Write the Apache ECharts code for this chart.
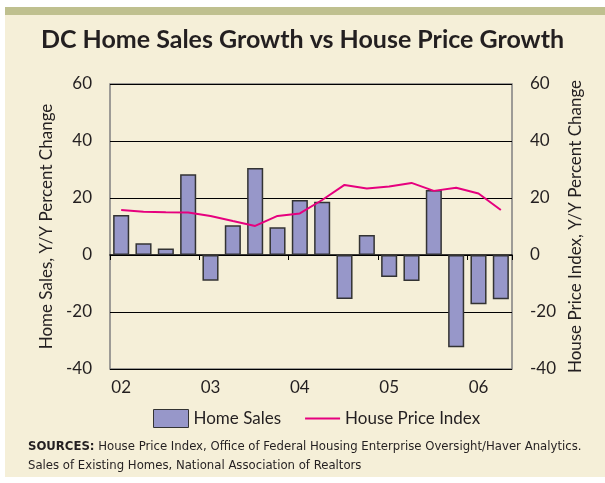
<!DOCTYPE html>
<html>
<head>
<meta charset="utf-8">
<script src="https://cdn.jsdelivr.net/npm/echarts@6/dist/echarts.min.js"></script>
<style>
  html, body { margin: 0; padding: 0; background: #fff; }
  #chart { width: 605px; height: 483px; }
</style>
</head>
<body>
<div id="chart"></div>
<script>
var quarters = ['2002Q1', '2002Q2', '2002Q3', '2002Q4',
    '2003Q1', '2003Q2', '2003Q3', '2003Q4',
    '2004Q1', '2004Q2', '2004Q3', '2004Q4',
    '2005Q1', '2005Q2', '2005Q3', '2005Q4',
    '2006Q1', '2006Q2'];
var homeSales = [14, 4.1, 2.3, 28.3, -9, 10.4, 30.5, 9.7, 19.3, 18.7, -15.4, 7, -7.7, -9.1, 22.8, -32.4, -17.3, -15.5];
var housePrice = [15.8, 15.2, 15, 14.9, 13.7, 11.9, 10.2, 13.7, 14.6, 19.3, 24.6, 23.3, 24, 25.3, 22.5, 23.6, 21.6, 15.8];

var textColor = '#231f20';
var font = 'Lato';
var smallFont = "'DejaVu Sans Condensed', Roboto";

var myChart = echarts.init(document.getElementById('chart'));

myChart.setOption({
    animation: false,
    graphic: [
        { type: 'rect', z: -10, shape: { x: 5, y: 7, width: 600, height: 470 }, style: { fill: '#f5efd8' } },
        { type: 'rect', z: -9, shape: { x: 5, y: 7, width: 600, height: 8 }, style: { fill: '#bfc08f' } },
        {
            type: 'text', left: 28, top: 437,
            style: {
                text: '{b|SOURCES:} House Price Index, Office of Federal Housing Enterprise Oversight/Haver Analytics.\nSales of Existing Homes, National Association of Realtors',
                fontFamily: smallFont,
                fontSize: 13,
                lineHeight: 19,
                fill: textColor,
                rich: { b: { fontWeight: 'bold', fontFamily: smallFont, fontSize: 13 } }
            }
        }
    ],
    title: {
        text: 'DC Home Sales Growth vs House Price Growth',
        left: 'center',
        top: 22,
        textStyle: { fontFamily: font, fontWeight: 'bold', fontSize: 25, color: textColor }
    },
    legend: {
        top: 404,
        left: 148,
        itemGap: 24,
        textStyle: { fontFamily: font, fontSize: 17, color: textColor },
        data: [
            { name: 'Home Sales', icon: 'rect', itemStyle: { borderColor: '#333', borderWidth: 1 } },
            { name: 'House Price Index', icon: 'path://M0,0 L32,0 L32,2 L0,2 Z' }
        ],
        itemWidth: 35,
        itemHeight: 18
    },
    grid: {
        left: 110, right: 93, top: 84, bottom: 114,
        show: true, borderColor: '#808080', borderWidth: 1.5
    },
    xAxis: [{
        type: 'category',
        data: quarters,
        axisLine: { onZero: true, lineStyle: { color: '#000', width: 1.5 } },
        axisTick: { show: true, length: 5, interval: function (i) { return i % 4 === 0; }, lineStyle: { color: '#000' } },
        axisLabel: { show: false }
    }, {
        type: 'category',
        data: quarters,
        position: 'bottom',
        axisLine: { show: false },
        axisTick: { show: false },
        axisLabel: {
            interval: 3,
            margin: 10,
            fontFamily: font,
            fontSize: 17,
            color: textColor,
            formatter: function (v) { return v.slice(2, 4); }
        }
    }],
    yAxis: [{
        type: 'value',
        min: -40, max: 60, interval: 20,
        name: 'Home Sales, Y/Y Percent Change',
        nameLocation: 'middle',
        nameGap: 52,
        nameTextStyle: { fontFamily: font, fontSize: 17, color: textColor },
        axisLine: { show: false },
        axisTick: { show: false },
        axisLabel: { margin: 18, fontFamily: font, fontSize: 17, color: textColor },
        splitLine: { lineStyle: { color: '#000', width: 1.2 } }
    }, {
        type: 'value',
        min: -40, max: 60, interval: 20,
        name: 'House Price Index, Y/Y Percent Change',
        nameLocation: 'middle',
        nameGap: 50,
        nameTextStyle: { fontFamily: font, fontSize: 17, color: textColor },
        axisLine: { show: false },
        axisTick: { show: false },
        axisLabel: { margin: 18, fontFamily: font, fontSize: 17, color: textColor },
        splitLine: { show: false }
    }],
    series: [{
        name: 'Home Sales',
        type: 'bar',
        data: homeSales,
        barCategoryGap: '28%',
        itemStyle: { color: '#9797c9', borderColor: '#333', borderWidth: 1.5 }
    }, {
        name: 'House Price Index',
        type: 'line',
        yAxisIndex: 1,
        data: housePrice,
        symbol: 'none',
        lineStyle: { color: '#e6007e', width: 2 },
        itemStyle: { color: '#e6007e' }
    }]
});
</script>
</body>
</html>
